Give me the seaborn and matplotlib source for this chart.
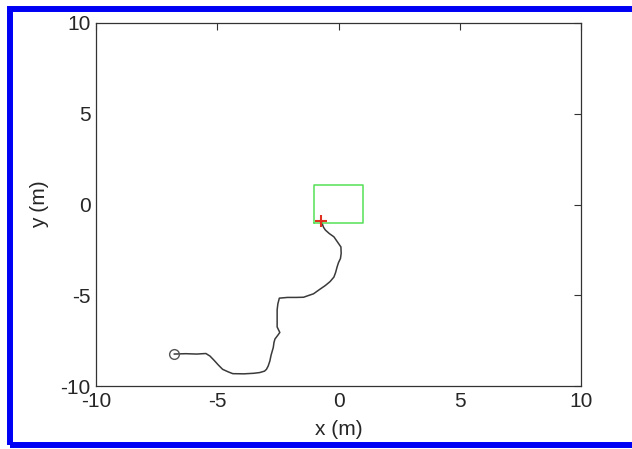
import matplotlib
matplotlib.use("Agg")
import matplotlib.pyplot as plt
from matplotlib.patches import Rectangle
import pandas as pd
import seaborn as sns

# trajectory (metres)
path_x = [-6.78, -6.3, -5.85, -5.47, -5.3, -5.12, -4.95, -4.78, -4.55, -4.36,
          -3.9, -3.5, -3.25, -3.05, -2.97, -2.9, -2.83, -2.78, -2.69, -2.66,
          -2.62, -2.5, -2.42, -2.53, -2.53, -2.53, -2.5, -2.44, -2.1, -1.75,
          -1.44, -1.25, -1.03, -0.8, -0.54, -0.35, -0.19, -0.12, -0.06, 0.0,
          0.08, 0.11, 0.1, -0.05, -0.19, -0.38, -0.54, -0.62, -0.66, -0.7]
path_y = [-8.24, -8.22, -8.24, -8.21, -8.35, -8.6, -8.85, -9.08, -9.22, -9.32,
          -9.33, -9.3, -9.26, -9.18, -9.08, -8.9, -8.62, -8.3, -7.88, -7.6,
          -7.41, -7.2, -7.05, -6.75, -6.3, -5.8, -5.47, -5.16, -5.12, -5.12,
          -5.11, -5.02, -4.92, -4.7, -4.46, -4.25, -4.0, -3.75, -3.45, -3.2,
          -2.98, -2.7, -2.34, -2.05, -1.78, -1.6, -1.41, -1.25, -1.1, -0.93]

start_pt = (-6.78, -8.24)
goal_pt = (-0.72, -0.91)

# target region corners
rect_x = [-1.0, 1.0, 1.0, -1.0, -1.0]
rect_y = [-1.0, -1.0, 1.1, 1.1, -1.0]

ticks = [-10, -5, 0, 5, 10]

sns.set_style("white")
plt.rcParams['font.family'] = ['Liberation Sans', 'DejaVu Sans']
plt.rcParams['axes.unicode_minus'] = False

fig = plt.figure(figsize=(6.32, 4.49), dpi=100)
ax = fig.add_axes([96 / 632, 63 / 449, 485 / 632, 363 / 449])

df = pd.DataFrame({'x': path_x, 'y': path_y})
sns.lineplot(data=df, x='x', y='y', sort=False, estimator=None,
             color='#3a3a3a', linewidth=1.1, ax=ax)
ax.plot(rect_x, rect_y, color='#55e055', linewidth=1.1)
ax.plot(*start_pt, marker='o', markersize=7, markerfacecolor='none',
        markeredgecolor='#555555', markeredgewidth=1.0)
ax.plot(*goal_pt, marker='+', markersize=9, color='#e03020', markeredgewidth=1.5)

ax.set_xlim(-10, 10)
ax.set_ylim(-10, 10)
ax.set_xticks(ticks)
ax.set_yticks(ticks)
ax.set_xlabel('x (m)', fontsize=15, labelpad=7)
ax.set_ylabel('y (m)', fontsize=15, labelpad=8)
ax.tick_params(direction='in', length=5, width=0.8, labelsize=15,
               top=True, right=True, color='#333333', pad=4)
for s in ax.spines.values():
    s.set_color('#333333')
    s.set_linewidth(0.9)

# blue frame around the figure
fig.patches.append(Rectangle((10 / 632, 4 / 449), 640 / 632, 436.5 / 449,
                             transform=fig.transFigure, fill=False,
                             edgecolor='#0000f5', linewidth=4.3))

fig.savefig('out.png', dpi=100)
